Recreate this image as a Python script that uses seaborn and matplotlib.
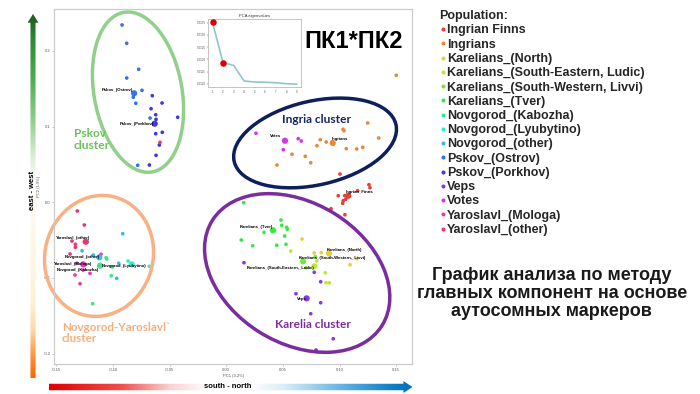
import numpy as np
import pandas as pd
import seaborn as sns
import matplotlib.pyplot as plt
from matplotlib.patches import Ellipse, Polygon
from matplotlib.colors import LinearSegmentedColormap

# Populations (legend order)
populations = ["Ingrian Finns", "Ingrians", "Karelians_(North)",
               "Karelians_(South-Eastern, Ludic)", "Karelians_(South-Western, Livvi)",
               "Karelians_(Tver)", "Novgorod_(Kabozha)", "Novgorod_(Lyubytino)",
               "Novgorod_(other)", "Pskov_(Ostrov)", "Pskov_(Porkhov)", "Veps", "Votes",
               "Yaroslavl_(Mologa)", "Yaroslavl_(other)"]

# individual samples (PC1, PC2)
ingrian_finns = [(0.1003, 0.0374), (0.1259, 0.0233), (0.1268, 0.0193), (0.0988, 0.0087),
                 (0.1159, 0.0153), (0.1045, 0.0087), (0.1054, 0.0040), (0.1032, 0.0021),
                 (0.1027, -0.0013), (0.0924, -0.0085), (0.1047, -0.0164)]
ingrians = [(0.1500, 0.1679), (0.1248, 0.1048), (0.1030, 0.0965), (0.1039, 0.0946),
            (0.1345, 0.0850), (0.0829, 0.0827), (0.0882, 0.0797), (0.0800, 0.0748),
            (0.1059, 0.0709), (0.1151, 0.0705), (0.1204, 0.0727), (0.0580, 0.0635),
            (0.0697, 0.0608), (0.0745, 0.0523), (0.0447, 0.0493)]
karelians_north = [(0.0668, -0.0485), (0.0776, -0.0670), (0.0838, -0.0666),
                   (0.1092, -0.0825), (0.1151, -0.0746)]
karelians_se = [(0.0568, -0.0644), (0.0798, -0.0776), (0.0874, -0.0931),
                (0.0880, -0.1063), (0.0909, -0.1063)]
karelians_sw = [(0.0785, -0.0719), (0.0703, -0.0865), (0.0683, -0.0789)]
karelians_tver = [(0.0154, -0.0005), (0.0483, -0.0234), (0.0489, -0.0304), (0.0533, -0.0330),
                  (0.0538, -0.0357), (0.0333, -0.0397), (0.0515, -0.0445), (0.0132, -0.0498),
                  (0.0233, -0.0574), (0.0445, -0.0568), (0.0527, -0.0555)]
novgorod_kabozha = [(-0.1227, -0.0529), (-0.1061, -0.0732), (-0.1055, -0.0750),
                    (-0.1006, -0.0855), (-0.1015, -0.0970), (-0.1179, -0.1340)]
novgorod_lyubytino = [(-0.0679, -0.0846), (-0.0867, -0.0776)]
novgorod_other = [(-0.0914, -0.0415), (-0.1273, -0.0640), (-0.1174, -0.0697),
                  (-0.0949, -0.0806), (-0.0967, -0.1005)]
pskov_ostrov = [(-0.0920, 0.2344), (-0.0879, 0.2102), (-0.0773, 0.1758), (-0.0879, 0.1643),
                (-0.0744, 0.1480), (-0.0821, 0.1388), (-0.0799, 0.1309), (-0.0673, 0.1114),
                (-0.0782, 0.0489)]
pskov_porkhov = [(-0.0653, 0.1409), (-0.0567, 0.1313), (-0.0664, 0.1237), (-0.0623, 0.1158),
                 (-0.0620, 0.1097), (-0.0429, 0.1124), (-0.0623, 0.0907), (-0.0565, 0.0925),
                 (-0.0591, 0.0757), (-0.0620, 0.0621), (-0.0679, 0.0493)]
veps = [(0.0156, -0.0798), (0.0776, -0.0925), (0.0833, -0.1050), (0.0615, -0.1208),
        (0.0833, -0.1327), (0.0745, -0.1473), (0.0944, -0.1803), (0.0792, -0.1952)]
votes = [(0.0262, 0.0912), (0.0635, 0.0841), (0.0662, 0.0810), (0.0503, 0.0695)]
yaroslavl_mologa = [(-0.1106, -0.0687), (-0.1320, -0.0806), (-0.1262, -0.0895),
                    (-0.1203, -0.0939), (-0.1335, -0.0961), (-0.1291, -0.1076)]
yaroslavl_other = [(-0.1315, -0.0115), (-0.1253, -0.0300), (-0.1362, -0.0512),
                   (-0.1332, -0.0555), (-0.1332, -0.0595), (-0.1379, -0.0683),
                   (-0.0585, 0.0793)]

groups = [ingrian_finns, ingrians, karelians_north, karelians_se, karelians_sw,
          karelians_tver, novgorod_kabozha, novgorod_lyubytino, novgorod_other,
          pskov_ostrov, pskov_porkhov, veps, votes, yaroslavl_mologa, yaroslavl_other]

# population means
centroid_pc1 = [0.1076, 0.0939, 0.0906, 0.0776, 0.0677, 0.0412, -0.1114, -0.0835,
                -0.1121, -0.0814, -0.0632, 0.0709, 0.0518, -0.1262, -0.1241]
centroid_pc2 = [0.0087, 0.0784, -0.0674, -0.0846, -0.0780, -0.0370, -0.0838, -0.0820,
                -0.0727, 0.1441, 0.1039, -0.1269, 0.0814, -0.0820, -0.0521]
centroid_labels = ["Ingrian_Finns", "Ingrians", "Karelians_(North)",
                   "Karelians_(South-Eastern,_Ludic)", "Karelians_(South-Western,_Livvi)",
                   "Karelians_(Tver)", "Novgorod_(Kabozha)", "Novgorod_(Lyubytino)",
                   "Novgorod_(other)", "Pskov_(Ostrov)", "Pskov_(Porkhov)", "Veps", "Votes",
                   "Yaroslavl_(Mologa)", "Yaroslavl_(other)"]

# scree plot in the inset
components = [1, 2, 3, 4, 5, 6, 7, 8, 9]
eigenvalues = [0.01351, 0.01186, 0.01176, 0.01112, 0.01108, 0.01107, 0.01105, 0.01101, 0.01099]

frames = []
for name, pts in zip(populations, groups):
    arr = np.array(pts)
    frames.append(pd.DataFrame({"PC1": arr[:, 0], "PC2": arr[:, 1], "Population": name}))
df = pd.concat(frames, ignore_index=True)

sns.set_theme(style="white")
plt.rcParams["font.family"] = ["Liberation Sans", "DejaVu Sans"]

W, H = 700, 394


def box(x0, y0, x1, y1):
    # pixel box -> figure fraction
    return [x0 / W, 1 - y1 / H, (x1 - x0) / W, (y1 - y0) / H]


fig = plt.figure(figsize=(7, 3.94), dpi=100)
fig.patch.set_facecolor("white")

ax = fig.add_axes(box(54.3, 9, 412, 364.3))
palette = sns.hls_palette(15, l=0.56, s=0.8)

sns.scatterplot(data=df, x="PC1", y="PC2", hue="Population", hue_order=populations,
                palette=palette, s=7, linewidth=0, ax=ax)
sns.scatterplot(x=centroid_pc1, y=centroid_pc2, hue=populations, hue_order=populations,
                palette=palette, s=20, linewidth=0, legend=False, ax=ax)

ax.set_xlim(-0.1518, 0.1639)
ax.set_ylim(-0.2141, 0.2555)
ax.set_xticks([-0.15, -0.10, -0.05, 0.0, 0.05, 0.10, 0.15])
ax.set_xticklabels(["-0.15", "-0.10", "-0.05", "0.00", "0.05", "0.10", "0.15"])
ax.set_yticks([-0.2, -0.1, 0.0, 0.1, 0.2])
ax.set_yticklabels(["-0.2", "-0.1", "0.0", "0.1", "0.2"])
ax.tick_params(bottom=True, left=True, length=1.5, width=0.4, labelsize=3,
               labelcolor="#555555", color="#999999", pad=1)
ax.set_xlabel("PC1 (3.2%)", fontsize=3, color="#555555", labelpad=1.5)
ax.set_ylabel("PC2 (1.9%)", fontsize=3, color="#555555", labelpad=2)
for sp in ax.spines.values():
    sp.set_color("#cccccc")
    sp.set_linewidth(0.9)

# centroid labels
label_dx = [-2.6, -1, -2.3, 0.7, -4.7, -0.3, -0.7, -30, 0.7, -1, -0.7, 0, -3.3, -29.3, 5]
label_dy = [3.7, 3.7, 3.3, -1.7, 3.6, 3.6, -4.3, -1.7, 0, 3.3, -0.6, -0.7, 4.4, 0, 4]
label_ha = ["left", "left", "left", "right", "left", "right", "right", "left", "right",
            "right", "right", "right", "right", "left", "right"]
for lx, ly, lab, dx, dy, ha in zip(centroid_pc1, centroid_pc2, centroid_labels,
                                   label_dx, label_dy, label_ha):
    ax.annotate(lab, (lx, ly), xytext=(dx, dy), textcoords="offset pixels",
                ha=ha, va="center", fontsize=3.1, fontweight="bold", color="black")

# cluster outlines (axes fraction)
ellipses = [((0.234, 0.766), 0.246, 0.456, 10, "#90d08a"),
            ((0.729, 0.623), 0.464, 0.236, 13, "#0d1f5c"),
            ((0.125, 0.305), 0.302, 0.343, -15, "#f9b183"),
            ((0.679, 0.257), 0.559, 0.394, -32, "#7a2d9c")]
for c, w, h, ang, col in ellipses:
    ax.add_patch(Ellipse(c, w, h, angle=ang, transform=ax.transAxes, fill=False,
                         edgecolor=col, linewidth=2.5, clip_on=False))

# legend
sns.move_legend(ax, "upper left", bbox_to_anchor=(433 / W, 1 - 4 / H),
                bbox_transform=fig.transFigure, frameon=False, title="Population:",
                fontsize=9, title_fontsize=9, handletextpad=0.0, labelspacing=0.18,
                borderpad=0, handlelength=0.6, markerscale=1.1)
leg = ax.get_legend()
leg._legend_box.align = "left"
leg.get_title().set_fontweight("bold")
for t in leg.get_texts():
    t.set_fontweight("bold")

# inset scree plot
axin = fig.add_axes(box(208.3, 19.3, 301, 87.3))
sns.lineplot(x=components, y=eigenvalues, color="#8ec5cf", linewidth=1.2, ax=axin)
sns.scatterplot(x=components[:2], y=eigenvalues[:2], color="#dd0000", s=22,
                linewidth=0, ax=axin, zorder=3)
axin.set_title("PCA eigenvalues", fontsize=3, pad=1.5, color="#333333")
axin.set_xticks(components)
axin.set_yticks([0.0110, 0.0115, 0.0120, 0.0125, 0.0130, 0.0135])
axin.set_yticklabels(["0.0110", "0.0115", "0.0120", "0.0125", "0.0130", "0.0135"])
axin.tick_params(bottom=True, left=True, length=1, width=0.3, labelsize=2.2,
                 labelcolor="#555555", pad=1)
for sp in axin.spines.values():
    sp.set_color("#bbbbbb")
    sp.set_linewidth(0.6)


def gradient_arrow(rect, stops, vertical):
    a = fig.add_axes(rect)
    a.set_xlim(0, 1)
    a.set_ylim(0, 1)
    a.axis("off")
    cmap = LinearSegmentedColormap.from_list("arrow", stops)
    grad = np.linspace(0, 1, 512)
    if vertical:
        img = grad[:, None]
        shape = [(0.27, 0), (0.73, 0), (0.73, 0.976), (1, 0.976), (0.5, 1),
                 (0, 0.976), (0.27, 0.976)]
    else:
        img = grad[None, :]
        shape = [(0, 0.23), (0.975, 0.23), (0.975, 0), (1, 0.5), (0.975, 1),
                 (0.975, 0.77), (0, 0.77)]
    im = a.imshow(img, cmap=cmap, extent=[0, 1, 0, 1], origin="lower", aspect="auto")
    poly = Polygon(shape, closed=True, facecolor="none", edgecolor="none")
    a.add_patch(poly)
    im.set_clip_path(poly)


gradient_arrow(box(27.5, 14, 38.5, 378),
               [(0.0, "#ff6400"), (0.05, "#ff8a30"), (0.13, "#ffd8a6"), (0.21, "#fff1d6"),
                (0.46, "#fffaf0"), (0.52, "#ffffff"), (0.60, "#dff0db"), (0.71, "#8fcf8a"),
                (0.82, "#4caf50"), (0.93, "#2e8b34"), (1.0, "#1b5e20")], True)
gradient_arrow(box(49, 381, 412.5, 393),
               [(0.0, "#e00000"), (0.2, "#f05050"), (0.33, "#fbd0d0"), (0.44, "#ffffff"),
                (0.55, "#ffffff"), (0.65, "#d8ecf8"), (0.8, "#6ab4e0"), (0.95, "#0a7cc4"),
                (1.0, "#0070c0")], False)

fig.text(33 / W, 1 - 190 / H, "east - west", rotation=90, ha="center", va="center",
         fontsize=5.5, fontweight="bold", color="black")
fig.text(228 / W, 1 - 387 / H, "south - north", ha="center", va="center",
         fontsize=5.5, fontweight="bold", color="black")

# cluster names
cl_font = ["Lato", "DejaVu Sans"]
fig.text(74 / W, 1 - 139.5 / H, "Pskov\ncluster", ha="left", va="center", fontsize=8.6,
         fontweight="bold", color="#6cbf5a", family=cl_font, linespacing=1.05)
fig.text(317 / W, 1 - 119.3 / H, "Ingria cluster", ha="center", va="center", fontsize=8.6,
         fontweight="bold", color="#13275e", family=cl_font)
fig.text(313.3 / W, 1 - 325 / H, "Karelia cluster", ha="center", va="center", fontsize=8.6,
         fontweight="bold", color="#7a2d9c", family=cl_font)
fig.text(62 / W, 1 - 333 / H, "Novgorod-Yaroslavl`\ncluster", ha="left", va="center",
         fontsize=8.4, fontweight="bold", color="#f6ad7e", family=cl_font, linespacing=1.1)

fig.text(354 / W, 1 - 42 / H, "ПК1*ПК2", ha="center", va="center", fontsize=17,
         fontweight="bold", color="black")
fig.text(551.7 / W, 1 - 293.5 / H,
         "График анализа по методу\nглавных компонент на основе\nаутосомных маркеров",
         ha="center", va="center", fontsize=13, fontweight="bold", color="#1a1a1a",
         linespacing=1.08)

fig.savefig("out.png", dpi=100)
